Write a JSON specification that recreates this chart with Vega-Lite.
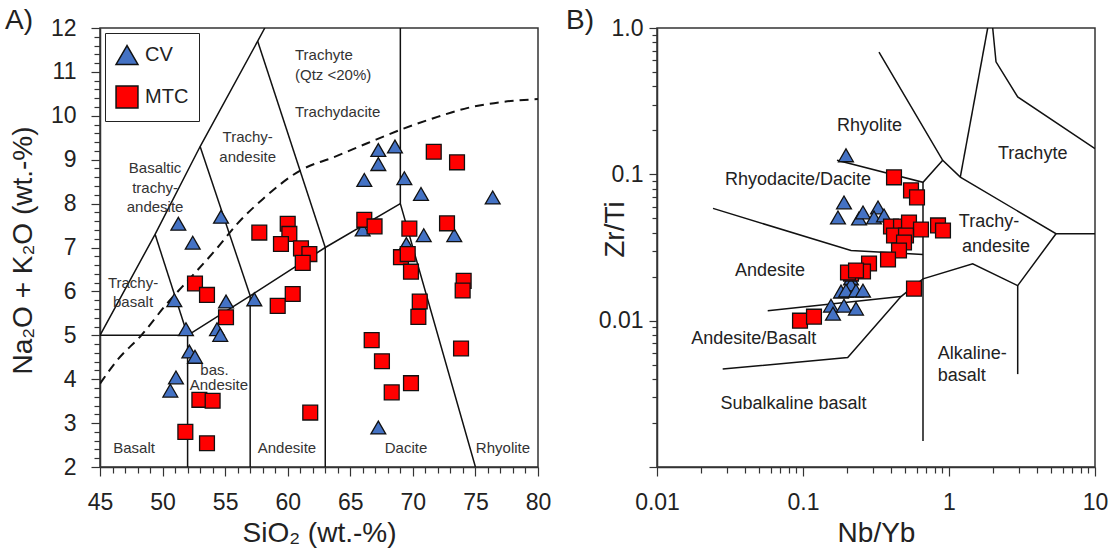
{
  "$schema": "https://vega.github.io/schema/vega-lite/v6.json",
  "background": "white",
  "padding": {"left": 4, "top": 6, "right": 5, "bottom": 5},
  "bounds": "flush",
  "spacing": 119,
  "config": {
    "font": "Liberation Sans",
    "view": {"stroke": "#333", "strokeWidth": 1.5},
    "axis": {"domainColor": "#333", "domainWidth": 1.5, "tickColor": "#333", "tickWidth": 1.2, "labelColor": "#222", "titleColor": "#222", "grid": false, "labelFontSize": 23, "titleFontSize": 28, "titleFontWeight": "normal", "labelOverlap": false, "labelFlush": false, "labelBound": false},
    "title": {"fontSize": 28, "fontWeight": "normal", "color": "#222"}
  },
  "resolve": {"legend": {"color": "independent", "shape": "independent"}},
  "hconcat": [
    {
      "width": 438,
      "height": 439,
      "title": {"text": "A)", "anchor": "start", "frame": "group", "offset": 0, "dx": -95, "dy": 32, "baseline": "middle", "fontSize": 28},
      "encoding": {
        "x": {"field": "x", "type": "quantitative", "scale": {"domain": [45, 80], "nice": false, "zero": false},
          "axis": {"title": "SiO₂ (wt.-%)", "titleY": 66, "titleBaseline": "middle", "labelPadding": 15,
            "values": [45,46,47,48,49,50,51,52,53,54,55,56,57,58,59,60,61,62,63,64,65,66,67,68,69,70,71,72,73,74,75,76,77,78,79,80],
            "labelExpr": "datum.value % 5 === 0 ? datum.label : ''",
            "tickSize": {"condition": {"test": "datum.value % 5 === 0", "value": 9}, "value": 6}}},
        "y": {"field": "y", "type": "quantitative", "scale": {"domain": [2, 12], "nice": false, "zero": false},
          "axis": {"title": "Na₂O + K₂O (wt.-%)", "titleX": -77, "titleY": 222, "titleBaseline": "middle", "labelPadding": 15,
            "values": [2,2.2,2.4,2.6,2.8,3,3.2,3.4,3.6,3.8,4,4.2,4.4,4.6,4.8,5,5.2,5.4,5.6,5.8,6,6.2,6.4,6.6,6.8,7,7.2,7.4,7.6,7.8,8,8.2,8.4,8.6,8.8,9,9.2,9.4,9.6,9.8,10,10.2,10.4,10.6,10.8,11,11.2,11.4,11.6,11.8,12],
            "labelExpr": "abs(datum.value - round(datum.value)) < 0.01 ? format(datum.value, 'd') : ''",
            "tickSize": {"condition": {"test": "abs(datum.value - round(datum.value)) < 0.01", "value": 9}, "value": 6}}}
      },
      "layer": [
        {
          "data": {"values": [
            {"id": "a", "o": 0, "x": 45, "y": 5}, {"id": "a", "o": 1, "x": 52, "y": 5},
            {"id": "b", "o": 0, "x": 52, "y": 2}, {"id": "b", "o": 1, "x": 52, "y": 5}, {"id": "b", "o": 2, "x": 57, "y": 5.9}, {"id": "b", "o": 3, "x": 63, "y": 7}, {"id": "b", "o": 4, "x": 69, "y": 8},
            {"id": "c", "o": 0, "x": 57, "y": 2}, {"id": "c", "o": 1, "x": 57, "y": 5.9},
            {"id": "d", "o": 0, "x": 63, "y": 2}, {"id": "d", "o": 1, "x": 63, "y": 7},
            {"id": "e", "o": 0, "x": 75, "y": 2}, {"id": "e", "o": 1, "x": 69, "y": 8}, {"id": "e", "o": 2, "x": 69, "y": 12},
            {"id": "f", "o": 0, "x": 45, "y": 5}, {"id": "f", "o": 1, "x": 49.4, "y": 7.3}, {"id": "f", "o": 2, "x": 53, "y": 9.3}, {"id": "f", "o": 3, "x": 57.6, "y": 11.7}, {"id": "f", "o": 4, "x": 58.17, "y": 12},
            {"id": "g", "o": 0, "x": 49.4, "y": 7.3}, {"id": "g", "o": 1, "x": 52, "y": 5},
            {"id": "h", "o": 0, "x": 53, "y": 9.3}, {"id": "h", "o": 1, "x": 57, "y": 5.9},
            {"id": "i", "o": 0, "x": 57.6, "y": 11.7}, {"id": "i", "o": 1, "x": 63, "y": 7}
          ]},
          "mark": {"type": "line", "color": "#111", "strokeWidth": 1.5, "clip": true},
          "encoding": {"detail": {"field": "id"}, "order": {"field": "o", "type": "quantitative"}}
        },
        {
          "data": {"values": [
            {"o": 0, "x": 45, "y": 3.9}, {"o": 1, "x": 46.4, "y": 4.44}, {"o": 2, "x": 48.3, "y": 5.0}, {"o": 3, "x": 50.4, "y": 5.74},
            {"o": 4, "x": 52.3, "y": 6.33}, {"o": 5, "x": 54.4, "y": 7.0}, {"o": 6, "x": 56, "y": 7.55}, {"o": 7, "x": 58, "y": 8.1},
            {"o": 8, "x": 61.1, "y": 8.77}, {"o": 9, "x": 63.7, "y": 9.06}, {"o": 10, "x": 66.4, "y": 9.38}, {"o": 11, "x": 69, "y": 9.68},
            {"o": 12, "x": 71.7, "y": 9.95}, {"o": 13, "x": 74.4, "y": 10.18}, {"o": 14, "x": 77, "y": 10.31}, {"o": 15, "x": 80, "y": 10.38}
          ]},
          "mark": {"type": "line", "color": "#111", "strokeWidth": 2, "strokeDash": [9, 6], "interpolate": "monotone", "clip": true},
          "encoding": {"order": {"field": "o", "type": "quantitative"}}
        },
        {
          "data": {"values": [
            {"t": "Basaltic", "x": 49.4, "y": 8.81}, {"t": "trachy-", "x": 49.4, "y": 8.36}, {"t": "andesite", "x": 49.4, "y": 7.92},
            {"t": "Trachy-", "x": 56.8, "y": 9.52}, {"t": "andesite", "x": 56.8, "y": 9.06},
            {"t": "Trachy-", "x": 47.64, "y": 6.19}, {"t": "basalt", "x": 47.64, "y": 5.76},
            {"t": "bas.", "x": 54.15, "y": 4.2}, {"t": "Andesite", "x": 54.5, "y": 3.86},
            {"t": "Basalt", "x": 47.72, "y": 2.43}, {"t": "Andesite", "x": 59.94, "y": 2.43},
            {"t": "Dacite", "x": 69.45, "y": 2.43}, {"t": "Rhyolite", "x": 77.2, "y": 2.43}
          ]},
          "mark": {"type": "text", "fontSize": 15, "color": "#333", "align": "center", "baseline": "middle"},
          "encoding": {"text": {"field": "t"}}
        },
        {
          "data": {"values": [
            {"t": "Trachyte", "x": 60.58, "y": 11.385}, {"t": "(Qtz <20%)", "x": 60.58, "y": 10.93}, {"t": "Trachydacite", "x": 60.58, "y": 10.09}
          ]},
          "mark": {"type": "text", "fontSize": 15, "color": "#333", "align": "left", "baseline": "middle"},
          "encoding": {"text": {"field": "t"}}
        },
        {
          "data": {"values": [
            {"g": "CV", "x": 51.26, "y": 7.54}, {"g": "CV", "x": 54.67, "y": 7.7}, {"g": "CV", "x": 52.41, "y": 7.11},
            {"g": "CV", "x": 50.94, "y": 5.8}, {"g": "CV", "x": 55.07, "y": 5.77}, {"g": "CV", "x": 57.33, "y": 5.82},
            {"g": "CV", "x": 51.87, "y": 5.14}, {"g": "CV", "x": 54.35, "y": 5.14}, {"g": "CV", "x": 54.61, "y": 5.01},
            {"g": "CV", "x": 52.14, "y": 4.63}, {"g": "CV", "x": 52.59, "y": 4.51}, {"g": "CV", "x": 51.07, "y": 4.04},
            {"g": "CV", "x": 50.62, "y": 3.74}, {"g": "CV", "x": 65.99, "y": 7.41}, {"g": "CV", "x": 70.87, "y": 7.28},
            {"g": "CV", "x": 73.31, "y": 7.28}, {"g": "CV", "x": 69.48, "y": 7.08}, {"g": "CV", "x": 67.24, "y": 2.9},
            {"g": "CV", "x": 67.24, "y": 9.22}, {"g": "CV", "x": 68.57, "y": 9.3}, {"g": "CV", "x": 67.24, "y": 8.9},
            {"g": "CV", "x": 66.12, "y": 8.54}, {"g": "CV", "x": 69.32, "y": 8.58}, {"g": "CV", "x": 70.65, "y": 8.22},
            {"g": "CV", "x": 76.38, "y": 8.14},
            {"g": "MTC", "x": 57.73, "y": 7.34}, {"g": "MTC", "x": 60.0, "y": 7.54}, {"g": "MTC", "x": 60.13, "y": 7.31},
            {"g": "MTC", "x": 59.46, "y": 7.08}, {"g": "MTC", "x": 61.06, "y": 6.98}, {"g": "MTC", "x": 61.73, "y": 6.85},
            {"g": "MTC", "x": 61.2, "y": 6.65}, {"g": "MTC", "x": 52.59, "y": 6.18}, {"g": "MTC", "x": 53.55, "y": 5.92},
            {"g": "MTC", "x": 60.4, "y": 5.94}, {"g": "MTC", "x": 59.2, "y": 5.67}, {"g": "MTC", "x": 55.07, "y": 5.41},
            {"g": "MTC", "x": 52.94, "y": 3.53}, {"g": "MTC", "x": 54.0, "y": 3.51}, {"g": "MTC", "x": 61.8, "y": 3.24},
            {"g": "MTC", "x": 51.82, "y": 2.8}, {"g": "MTC", "x": 53.55, "y": 2.54}, {"g": "MTC", "x": 66.12, "y": 7.63},
            {"g": "MTC", "x": 66.94, "y": 7.48}, {"g": "MTC", "x": 69.72, "y": 7.43}, {"g": "MTC", "x": 72.73, "y": 7.55},
            {"g": "MTC", "x": 69.05, "y": 6.78}, {"g": "MTC", "x": 69.59, "y": 6.85}, {"g": "MTC", "x": 69.85, "y": 6.45},
            {"g": "MTC", "x": 74.06, "y": 6.24}, {"g": "MTC", "x": 73.98, "y": 6.02}, {"g": "MTC", "x": 70.55, "y": 5.77},
            {"g": "MTC", "x": 70.44, "y": 5.42}, {"g": "MTC", "x": 66.71, "y": 4.89}, {"g": "MTC", "x": 67.53, "y": 4.41},
            {"g": "MTC", "x": 69.85, "y": 3.91}, {"g": "MTC", "x": 68.31, "y": 3.7}, {"g": "MTC", "x": 73.85, "y": 4.7},
            {"g": "MTC", "x": 71.67, "y": 9.18}, {"g": "MTC", "x": 73.53, "y": 8.94}
          ]},
          "mark": {"type": "point", "filled": true, "opacity": 1, "size": 220, "stroke": "#111", "strokeWidth": 1.3},
          "encoding": {
            "shape": {"field": "g", "type": "nominal", "scale": {"domain": ["CV", "MTC"], "range": ["triangle-up", "square"]},
              "legend": {"orient": "top-left", "title": null, "offset": 5, "padding": 10, "strokeColor": "#222", "fillColor": "white", "labelFontSize": 20, "labelColor": "#222", "symbolSize": 480, "symbolStrokeColor": "#111", "symbolStrokeWidth": 1.5, "rowPadding": 15, "labelOffset": 6}},
            "color": {"field": "g", "type": "nominal", "scale": {"domain": ["CV", "MTC"], "range": ["#4472C4", "#FF0000"]},
              "legend": {"orient": "top-left", "title": null, "offset": 5, "padding": 10, "strokeColor": "#222", "fillColor": "white", "labelFontSize": 20, "labelColor": "#222", "symbolSize": 480, "symbolStrokeColor": "#111", "symbolStrokeWidth": 1.5, "rowPadding": 15, "labelOffset": 6}}
          }
        }
      ]
    },
    {
      "width": 438,
      "height": 439,
      "title": {"text": "B)", "anchor": "start", "frame": "group", "offset": 0, "dx": -91, "dy": 32, "baseline": "middle", "fontSize": 28},
      "encoding": {
        "x": {"field": "x", "type": "quantitative", "scale": {"type": "log", "domain": [0.01, 10], "nice": false},
          "axis": {"title": "Nb/Yb", "titleY": 66, "titleBaseline": "middle", "labelPadding": 15,
            "values": [0.01,0.02,0.03,0.04,0.05,0.06,0.07,0.08,0.09,0.1,0.2,0.3,0.4,0.5,0.6,0.7,0.8,0.9,1,2,3,4,5,6,7,8,9,10],
            "labelExpr": "datum.value == 0.01 ? '0.01' : datum.value == 0.1 ? '0.1' : datum.value == 1 ? '1' : datum.value == 10 ? '10' : ''",
            "tickSize": {"condition": {"test": "datum.value == 0.01 || datum.value == 0.1 || datum.value == 1 || datum.value == 10", "value": 9}, "value": 6}}},
        "y": {"field": "y", "type": "quantitative", "scale": {"type": "log", "domain": [0.001, 1], "nice": false},
          "axis": {"title": "Zr/Ti", "titleX": -42, "titleY": 201, "titleBaseline": "middle", "labelPadding": 6,
            "values": [0.001,0.002,0.003,0.004,0.005,0.006,0.007,0.008,0.009,0.01,0.02,0.03,0.04,0.05,0.06,0.07,0.08,0.09,0.1,0.2,0.3,0.4,0.5,0.6,0.7,0.8,0.9,1],
            "labelExpr": "datum.value == 1 ? '1.0' : datum.value == 0.1 ? '0.1' : datum.value == 0.01 ? '0.01' : ''",
            "tickSize": {"condition": {"test": "datum.value == 0.001 || datum.value == 0.01 || datum.value == 0.1 || datum.value == 1", "value": 8}, "value": 5}}}
      },
      "layer": [
        {
          "data": {"values": [
            {"id": "p1", "o": 0, "x": 0.02419, "y": 0.05851}, {"id": "p1", "o": 1, "x": 0.2132, "y": 0.03016}, {"id": "p1", "o": 2, "x": 0.6636, "y": 0.02832},
            {"id": "p2", "o": 0, "x": 0.6636, "y": 0.08816}, {"id": "p2", "o": 1, "x": 0.6636, "y": 0.001507},
            {"id": "p3", "o": 0, "x": 0.1709, "y": 0.1247}, {"id": "p3", "o": 1, "x": 0.6636, "y": 0.08816}, {"id": "p3", "o": 2, "x": 0.9054, "y": 0.1247},
            {"id": "p4", "o": 0, "x": 0.3315, "y": 0.6848}, {"id": "p4", "o": 1, "x": 0.9054, "y": 0.1247}, {"id": "p4", "o": 2, "x": 1.195, "y": 0.09583}, {"id": "p4", "o": 3, "x": 5.405, "y": 0.03925}, {"id": "p4", "o": 4, "x": 10, "y": 0.03925},
            {"id": "p5", "o": 0, "x": 1.195, "y": 0.09583}, {"id": "p5", "o": 1, "x": 1.841, "y": 1},
            {"id": "p6", "o": 0, "x": 1.992, "y": 1}, {"id": "p6", "o": 1, "x": 2.099, "y": 0.5876}, {"id": "p6", "o": 2, "x": 2.955, "y": 0.3384}, {"id": "p6", "o": 3, "x": 10, "y": 0.15},
            {"id": "p7", "o": 0, "x": 5.405, "y": 0.03925}, {"id": "p7", "o": 1, "x": 2.955, "y": 0.01737}, {"id": "p7", "o": 2, "x": 1.453, "y": 0.02445}, {"id": "p7", "o": 3, "x": 0.6636, "y": 0.0193}, {"id": "p7", "o": 4, "x": 0.469, "y": 0.0146}, {"id": "p7", "o": 5, "x": 0.2024, "y": 0.005605}, {"id": "p7", "o": 6, "x": 0.02818, "y": 0.004668},
            {"id": "p8", "o": 0, "x": 2.955, "y": 0.01737}, {"id": "p8", "o": 1, "x": 2.955, "y": 0.004313},
            {"id": "p9", "o": 0, "x": 0.05731, "y": 0.01171}, {"id": "p9", "o": 1, "x": 0.469, "y": 0.0146}
          ]},
          "mark": {"type": "line", "color": "#111", "strokeWidth": 1.5, "clip": true},
          "encoding": {"detail": {"field": "id"}, "order": {"field": "o", "type": "quantitative"}}
        },
        {
          "data": {"values": [
            {"t": "Rhyolite", "x": 0.2855, "y": 0.2132}, {"t": "Rhyodacite/Dacite", "x": 0.09244, "y": 0.09097},
            {"t": "Trachyte", "x": 3.744, "y": 0.1386}, {"t": "Trachy-", "x": 1.879, "y": 0.0469}, {"t": "andesite", "x": 2.099, "y": 0.03212},
            {"t": "Andesite", "x": 0.05943, "y": 0.02176}, {"t": "Andesite/Basalt", "x": 0.04603, "y": 0.007494},
            {"t": "Subalkaline basalt", "x": 0.08607, "y": 0.002714}
          ]},
          "mark": {"type": "text", "fontSize": 18, "color": "#222", "align": "center", "baseline": "middle"},
          "encoding": {"text": {"field": "t"}}
        },
        {
          "data": {"values": [
            {"t": "Alkaline-", "x": 0.8366, "y": 0.005911}, {"t": "basalt", "x": 0.8366, "y": 0.004201}
          ]},
          "mark": {"type": "text", "fontSize": 18, "color": "#222", "align": "left", "baseline": "middle"},
          "encoding": {"text": {"field": "t"}}
        },
        {
          "data": {"values": [
            {"g": "CV", "x": 0.197, "y": 0.1349}, {"g": "CV", "x": 0.1909, "y": 0.06431}, {"g": "CV", "x": 0.1736, "y": 0.05075},
            {"g": "CV", "x": 0.2419, "y": 0.04995}, {"g": "CV", "x": 0.2576, "y": 0.05492}, {"g": "CV", "x": 0.3264, "y": 0.05943},
            {"g": "CV", "x": 0.3064, "y": 0.05075}, {"g": "CV", "x": 0.3588, "y": 0.05237}, {"g": "CV", "x": 0.2132, "y": 0.0194},
            {"g": "CV", "x": 0.2132, "y": 0.01765}, {"g": "CV", "x": 0.1821, "y": 0.0158}, {"g": "CV", "x": 0.197, "y": 0.01605},
            {"g": "CV", "x": 0.2307, "y": 0.01605}, {"g": "CV", "x": 0.2576, "y": 0.01605}, {"g": "CV", "x": 0.1555, "y": 0.01267},
            {"g": "CV", "x": 0.1909, "y": 0.01267}, {"g": "CV", "x": 0.2307, "y": 0.01209}, {"g": "CV", "x": 0.1605, "y": 0.01117},
            {"g": "CV", "x": 0.1134, "y": 0.01065},
            {"g": "MTC", "x": 0.4201, "y": 0.09539}, {"g": "MTC", "x": 0.5493, "y": 0.0777}, {"g": "MTC", "x": 0.6037, "y": 0.06959},
            {"g": "MTC", "x": 0.4006, "y": 0.04404}, {"g": "MTC", "x": 0.469, "y": 0.04404}, {"g": "MTC", "x": 0.5321, "y": 0.0469},
            {"g": "MTC", "x": 0.6427, "y": 0.04201}, {"g": "MTC", "x": 0.8409, "y": 0.04475}, {"g": "MTC", "x": 0.9097, "y": 0.04135},
            {"g": "MTC", "x": 0.4201, "y": 0.03823}, {"g": "MTC", "x": 0.5074, "y": 0.03823}, {"g": "MTC", "x": 0.4918, "y": 0.03422},
            {"g": "MTC", "x": 0.4545, "y": 0.03016}, {"g": "MTC", "x": 0.3822, "y": 0.02617}, {"g": "MTC", "x": 0.2833, "y": 0.02457},
            {"g": "MTC", "x": 0.2576, "y": 0.02166}, {"g": "MTC", "x": 0.2132, "y": 0.02098}, {"g": "MTC", "x": 0.2033, "y": 0.02132},
            {"g": "MTC", "x": 0.2307, "y": 0.02201}, {"g": "MTC", "x": 0.5757, "y": 0.01656}, {"g": "MTC", "x": 0.0954, "y": 0.01},
            {"g": "MTC", "x": 0.1189, "y": 0.01065}
          ]},
          "mark": {"type": "point", "filled": true, "opacity": 1, "size": 220, "stroke": "#111", "strokeWidth": 1.3},
          "encoding": {
            "shape": {"field": "g", "type": "nominal", "legend": null},
            "color": {"field": "g", "type": "nominal", "legend": null}
          }
        }
      ]
    }
  ]
}
